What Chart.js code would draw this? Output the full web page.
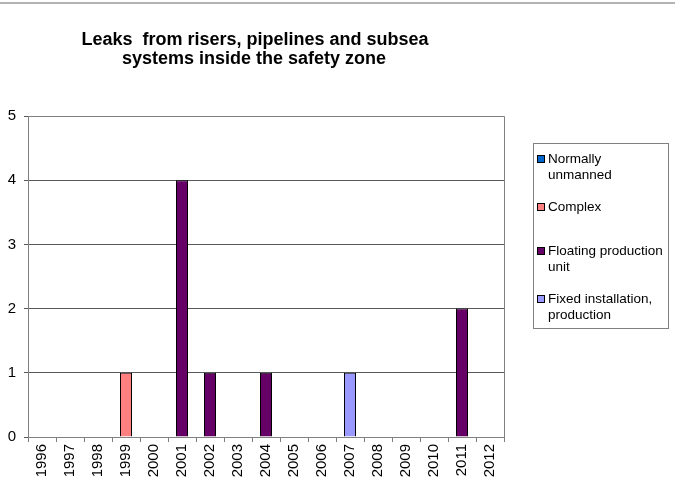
<!DOCTYPE html>
<html>
<head>
<meta charset="utf-8">
<script src="https://cdn.jsdelivr.net/npm/chart.js@4"></script>
<style>
    html, body { margin: 0; padding: 0; background: #fff; }
    #wrap { position: relative; width: 675px; height: 493px; font-family: "Liberation Sans", Arial, sans-serif; }
    #topline { position: absolute; left: 0; top: 2px; width: 675px; height: 2px; background: #b4b4b4; }
    #legend { position: absolute; left: 533px; top: 143px; width: 136px; height: 186px; border: 1px solid #808080; box-sizing: border-box; }
    .item { position: absolute; left: 3px; font-size: 13.5px; line-height: 16px; color: #000; }
    .box { position: absolute; left: 0; top: 4px; width: 8px; height: 8px; border: 1px solid #000; box-sizing: border-box; }
    .label { margin-left: 11px; width: 119px; }
</style>
</head>
<body>
<div id="wrap">
    <div id="topline"></div>
    <canvas id="leakChart" width="675" height="493"></canvas>
    <div id="legend"></div>
</div>
<script>
// Chart data
const years = ["1996", "1997", "1998", "1999", "2000", "2001", "2002", "2003", "2004", "2005", "2006", "2007", "2008", "2009", "2010", "2011", "2012"];
const normallyUnmanned = [0, 0, 0, 0, 0, 0, 0, 0, 0, 0, 0, 0, 0, 0, 0, 0, 0];
const complexUnit = [0, 0, 0, 1, 0, 0, 0, 0, 0, 0, 0, 0, 0, 0, 0, 0, 0];
const floatingUnit = [0, 0, 0, 0, 0, 4, 1, 0, 1, 0, 0, 0, 0, 0, 0, 2, 0];
const fixedProduction = [0, 0, 0, 0, 0, 0, 0, 0, 0, 0, 0, 1, 0, 0, 0, 0, 0];
const seriesNames = ["Normally unmanned", "Complex", "Floating production unit", "Fixed installation, production"];
const seriesColors = ['#0066cc', '#ff8080', '#660066', '#9999ff'];
const titleLines = ["Leaks  from risers, pipelines and subsea", "systems inside the safety zone"];

const seriesValues = [normallyUnmanned, complexUnit, floatingUnit, fixedProduction];
const toBars = (arr) => arr.map((v) => (v === 0 ? null : v));

// Title and plot frame drawn on the canvas
const framePlugin = {
    id: 'frame',
    afterDraw(chart) {
        const ctx = chart.ctx;
        const area = chart.chartArea;
        ctx.save();
        ctx.strokeStyle = '#808080';
        ctx.lineWidth = 1;
        ctx.beginPath();
        ctx.moveTo(area.left, area.top + 0.5);
        ctx.lineTo(area.right + 0.5, area.top + 0.5);
        ctx.lineTo(area.right + 0.5, area.bottom);
        ctx.stroke();
        ctx.fillStyle = '#000';
        ctx.font = 'bold 18px "Liberation Sans", Arial, sans-serif';
        ctx.textAlign = 'center';
        ctx.textBaseline = 'alphabetic';
        ctx.fillText(titleLines[0], 255, 45);
        ctx.fillText(titleLines[1], 254, 64);
        ctx.restore();
    }
};

const ctx = document.getElementById('leakChart').getContext('2d');
new Chart(ctx, {
    type: 'bar',
    data: {
        labels: years,
        datasets: seriesNames.map((name, i) => ({
            label: name,
            data: toBars(seriesValues[i]),
            backgroundColor: seriesColors[i],
            borderColor: '#000',
            borderWidth: 1,
            barPercentage: 0.43,
            categoryPercentage: 1,
        })),
    },
    options: {
        responsive: false,
        animation: false,
        layout: { padding: { top: 116, right: 171, left: 0, bottom: 0 } },
        plugins: {
            legend: { display: false },
            title: { display: false },
            tooltip: { enabled: false },
        },
        scales: {
            x: {
                stacked: true,
                afterFit: (scale) => { scale.height = 56; },
                grid: { drawOnChartArea: false, drawTicks: true, tickLength: 5, color: '#808080', offset: true },
                border: { color: '#808080' },
                ticks: {
                    color: '#000',
                    maxRotation: 90,
                    minRotation: 90,
                    padding: 2,
                    font: { family: '"Liberation Sans", Arial, sans-serif', size: 15 },
                },
            },
            y: {
                stacked: true,
                min: 0,
                max: 5,
                afterFit: (scale) => { scale.width = 28; },
                grid: { color: '#5a5a5a', drawTicks: true, tickLength: 4 },
                border: { color: '#808080' },
                ticks: {
                    stepSize: 1,
                    color: '#000',
                    padding: 8,
                    font: { family: '"Liberation Sans", Arial, sans-serif', size: 15 },
                },
            },
        },
    },
    plugins: [framePlugin],
});

// Legend built from the same series
const legendTops = [7, 55, 99, 147];
const legendElem = document.getElementById('legend');
seriesNames.forEach((name, i) => {
    const item = document.createElement('div');
    item.className = 'item';
    item.style.top = legendTops[i] + 'px';
    item.innerHTML = '<div class="box" style="background:' + seriesColors[i] + '"></div><div class="label"></div>';
    item.querySelector('.label').textContent = name;
    legendElem.appendChild(item);
});
</script>
</body>
</html>
